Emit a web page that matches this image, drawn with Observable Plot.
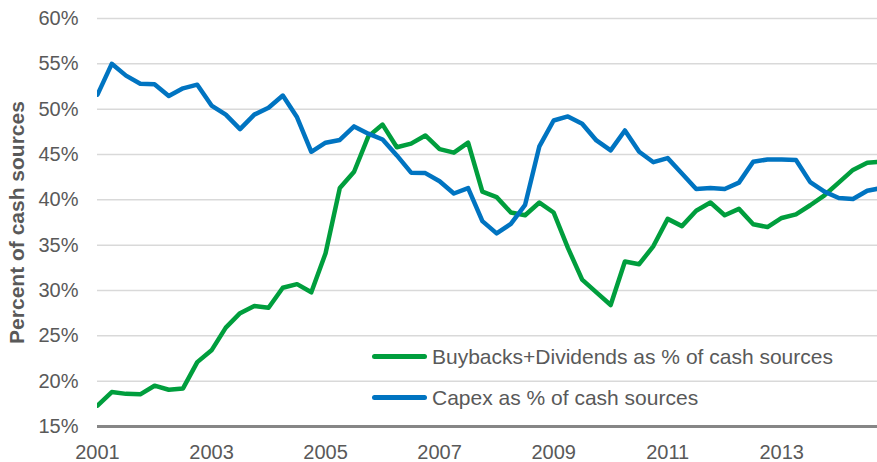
<!DOCTYPE html>
<html><head><meta charset="utf-8">
<script src="https://cdn.jsdelivr.net/npm/d3@7"></script>
<script src="https://cdn.jsdelivr.net/npm/@observablehq/plot@0.6"></script>
<style>
body{margin:0;background:#fff;font-family:"Liberation Sans",Arial,sans-serif;}
#wrap{position:relative;width:877px;height:462px;}
#legend{position:absolute;left:372px;top:336px;color:#595959;font-size:21px;white-space:nowrap;}
.row{display:flex;align-items:center;height:41px;}
.sw{width:55px;height:4.5px;border-radius:3px;margin-right:5px;}
</style></head><body><div id="wrap"><div id="legend"></div></div>
<script>
// Quarterly data, first quarter = 2001 Q1
const startYear = 2001;
const xEnd = 2014.68;
const buybacksDividends = [17.3,18.8,18.6,18.55,19.5,19.05,19.2,22.1,23.4,25.9,27.5,28.3,28.1,30.3,30.7,29.8,34.1,41.3,43.1,47.0,48.3,45.8,46.2,47.1,45.6,45.2,46.3,40.9,40.3,38.6,38.3,39.7,38.6,34.7,31.2,29.8,28.4,33.2,32.9,34.9,37.9,37.1,38.8,39.7,38.3,39.0,37.3,37.0,38.0,38.4,39.4,40.5,41.9,43.3,44.1,44.2];
const capex = [51.6,55.0,53.7,52.8,52.75,51.45,52.3,52.7,50.4,49.4,47.8,49.4,50.15,51.5,49.1,45.3,46.3,46.6,48.1,47.3,46.65,44.9,43.0,42.95,42.05,40.7,41.3,37.65,36.3,37.35,39.45,45.9,48.75,49.2,48.4,46.55,45.45,47.65,45.3,44.15,44.6,42.9,41.2,41.3,41.2,41.9,44.2,44.45,44.45,44.4,41.95,40.9,40.2,40.1,41.0,41.3];
const seriesNames = ["Buybacks+Dividends as % of cash sources", "Capex as % of cash sources"];
const seriesColors = ["#009e3d", "#0074c1"];
const yTicks = [15,20,25,30,35,40,45,50,55,60];
const xTicks = [2001,2003,2005,2007,2009,2011,2013];
const yLabel = "Percent of cash sources";

const rows = [];
[buybacksDividends, capex].forEach((arr, k) => arr.forEach((v, i) => rows.push({t: startYear + i / 4, v, s: seriesNames[k]})));

const chart = Plot.plot({
  width: 877, height: 462,
  marginLeft: 97, marginRight: 0, marginTop: 18, marginBottom: 36,
  style: {fontFamily: '"Liberation Sans", Arial, sans-serif', color: "#595959", background: "transparent", overflow: "visible"},
  x: {domain: [startYear, xEnd]},
  y: {domain: [yTicks[0], yTicks[yTicks.length - 1]]},
  color: {domain: seriesNames, range: seriesColors},
  marks: [
    Plot.gridY(yTicks.slice(1), {stroke: "#d9d9d9", strokeOpacity: 1, strokeWidth: 1.5}),
    Plot.ruleY([yTicks[0]], {stroke: "#868686", strokeWidth: 3}),
    Plot.line(rows, {x: "t", y: "v", stroke: "s", z: "s", strokeWidth: 4.5, strokeLinejoin: "round", strokeLinecap: "round", clip: true}),
    Plot.axisX({ticks: xTicks, tickFormat: d => String(d), tickSize: 0, tickPadding: 18, fontSize: 20, label: null}),
    Plot.axisY({ticks: yTicks, tickFormat: d => d + "%", tickSize: 0, tickPadding: 19, fontSize: 20, label: null}),
    Plot.axisY({ticks: [], label: yLabel, labelAnchor: "center", labelOffset: 88, labelArrow: "none", fontSize: 21, fontWeight: "bold"})
  ]
});
const wrap = document.getElementById("wrap");
wrap.insertBefore(chart, wrap.firstChild);
const legend = document.getElementById("legend");
seriesNames.forEach((n, k) => {
  const r = document.createElement("div"); r.className = "row";
  const sw = document.createElement("div"); sw.className = "sw"; sw.style.background = seriesColors[k];
  const tx = document.createElement("span"); tx.textContent = n;
  r.appendChild(sw); r.appendChild(tx); legend.appendChild(r);
});
</script></body></html>
